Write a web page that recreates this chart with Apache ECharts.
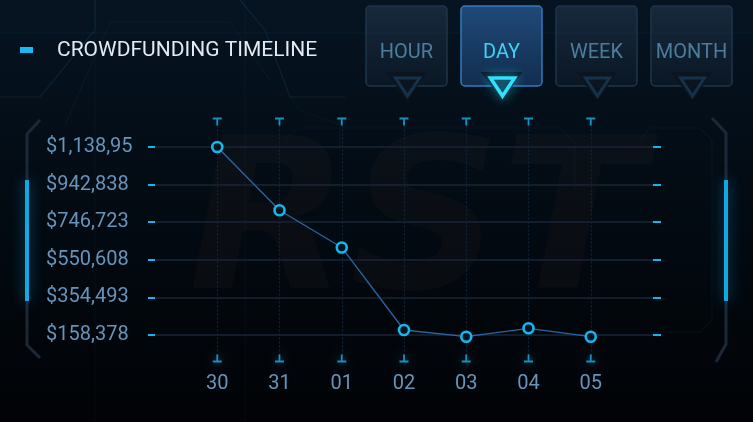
<!DOCTYPE html>
<html>
<head>
<meta charset="utf-8">
<script src="https://cdn.jsdelivr.net/npm/echarts@6/dist/echarts.min.js"></script>
<style>
html,body{margin:0;padding:0;background:#02070c;}
#chart{width:753px;height:422px;}
</style>
</head>
<body>
<div id="chart"></div>
<script>
// ---- data ----
const days = ['30', '31', '01', '02', '03', '04', '05'];
const funds = [1138953, 809300, 615100, 184400, 149500, 193300, 149500];
const yTickValues = [158378, 354493, 550608, 746723, 942838, 1138953];
const periodButtons = ['HOUR', 'DAY', 'WEEK', 'MONTH'];
const activeButton = 'DAY';
const chartTitle = 'CROWDFUNDING TIMELINE';

// padded category list so that the first/last day sit one slot inside the plot
const xCats = [''].concat(days, ['']);
const realCat = (i, v) => v !== '';

const chart = echarts.init(document.getElementById('chart'), null, {renderer: 'canvas'});

const FONT = 'Roboto, "DejaVu Sans", sans-serif';
const labelColor = '#6694bb';
const cyan = '#17b4ea';

// ---- decorative graphics ----
const graphics = [];
const frameStroke = 'rgba(40,85,120,0.26)';
graphics.push(
  {type:'polyline', silent:true, shape:{points:[[0,97],[40,97],[95,30],[95,0]]}, style:{stroke:frameStroke, lineWidth:1.2, fill:null}},
  {type:'polyline', silent:true, shape:{points:[[240,0],[265,30],[290,97],[345,97]]}, style:{stroke:frameStroke, lineWidth:1.2, fill:null}},
  {type:'polyline', silent:true, shape:{points:[[65,125],[110,22],[230,22],[270,80]]}, style:{stroke:'rgba(40,85,120,0.15)', lineWidth:1, fill:null}},
  {type:'polyline', silent:true, shape:{points:[[290,97],[300,110],[340,125],[340,150]]}, style:{stroke:'rgba(40,85,120,0.12)', lineWidth:1, fill:null}},
  {type:'line', silent:true, shape:{x1:0,y1:33,x2:753,y2:33}, style:{stroke:'rgba(40,80,110,0.18)', lineWidth:1}},
  {type:'line', silent:true, shape:{x1:95,y1:0,x2:95,y2:422}, style:{stroke:'rgba(40,80,110,0.10)', lineWidth:1}},
  {type:'line', silent:true, shape:{x1:245,y1:0,x2:245,y2:422}, style:{stroke:'rgba(40,80,110,0.10)', lineWidth:1}},
  {type:'polyline', silent:true, shape:{points:[[640,140],[650,128],[700,128],[712,140],[712,320],[700,332],[650,332]]}, style:{stroke:'rgba(40,85,120,0.14)', lineWidth:1, fill:null}},
  {type:'polyline', silent:true, shape:{points:[[285,140],[298,128],[560,128],[575,142],[575,190]]}, style:{stroke:'rgba(40,85,120,0.12)', lineWidth:1, fill:null}}
);
// big watermark logo
graphics.push({
  type:'text', silent:true, z:-1, left:188, top:128,
  style:{text:'RST', font:'italic 900 210px "DejaVu Sans", sans-serif', fill:'rgba(58,48,42,0.13)'}
});
// side brackets
const bracket = '#1b2838';
graphics.push(
  {type:'polyline', silent:true, shape:{points:[[40,120],[27,134],[27,345],[40,358]]}, style:{stroke:bracket, lineWidth:3, fill:null}},
  {type:'polyline', silent:true, shape:{points:[[712,118],[726,133],[726,344],[716,362]]}, style:{stroke:bracket, lineWidth:3, fill:null}},
  {type:'rect', silent:true, shape:{x:25,y:180,width:4,height:121}, style:{fill:'#12a9e3', shadowBlur:14, shadowColor:'rgba(20,160,230,0.6)'}},
  {type:'rect', silent:true, shape:{x:724,y:180,width:4,height:121}, style:{fill:'#12a9e3', shadowBlur:14, shadowColor:'rgba(20,160,230,0.6)'}}
);
// title
graphics.push(
  {type:'rect', silent:true, shape:{x:20,y:47,width:13,height:6}, style:{fill:'#19b9f1'}},
  {type:'text', silent:true, style:{text:chartTitle, x:57, y:51, verticalAlign:'middle', font:'21px ' + FONT, fill:'#e3eaf1', textShadowColor:'rgba(200,60,60,0.45)', textShadowOffsetX:-0.8, textShadowBlur:0}}
);
// period buttons
periodButtons.forEach((name, i) => {
  const x = 366 + i * 95, w = 81, cx = x + w / 2;
  const active = name === activeButton;
  graphics.push({
    type:'rect', silent:true,
    shape:{x:x, y:6, width:w, height:80, r:4},
    style:{
      fill: active
        ? new echarts.graphic.LinearGradient(0,0,0,1,[{offset:0,color:'#1f4a79'},{offset:1,color:'#112d4e'}])
        : new echarts.graphic.LinearGradient(0,0,0,1,[{offset:0,color:'rgba(36,58,80,0.55)'},{offset:1,color:'rgba(16,32,48,0.5)'}]),
      stroke: active ? '#3379bd' : '#1f3549', lineWidth: 1.5
    }
  });
  graphics.push({
    type:'text', silent:true,
    style:{text:name, x:cx, y:53, align:'center', verticalAlign:'middle', font:'20px ' + FONT, fill: active ? '#40d2f2' : '#4b7d9e'}
  });
  graphics.push({
    type:'polygon', silent:true,
    shape:{points:[[cx-21,72],[cx+21,72],[cx+1,101]]},
    style:{fill: active ? '#0b1a2a' : '#0a1520'}
  });
  graphics.push({
    type:'polygon', silent:true,
    shape:{points:[[cx-11,78],[cx+13,78],[cx+1,96]]},
    style:{fill:null, stroke: active ? '#2fe0ff' : '#15324b', lineWidth: active ? 3.5 : 3,
           shadowBlur: active ? 12 : 0, shadowColor:'rgba(40,220,255,0.8)'}
  });
});

const option = {
  backgroundColor: new echarts.graphic.LinearGradient(0,0,0,1,[
    {offset:0, color:'#061422'}, {offset:0.45, color:'#030b13'}, {offset:1, color:'#010306'}
  ]),
  animation: false,
  graphic: graphics,
  grid: [
    {left:155, right:100, top:147, bottom:87},
    {left:155, right:100, top:121.5, bottom:63.5}
  ],
  xAxis: [
    {type:'category', gridIndex:0, data:xCats, boundaryGap:false, show:false},
    {type:'category', gridIndex:1, data:xCats, boundaryGap:false,
     axisLine:{show:false}, axisTick:{show:false},
     axisLabel:{interval:realCat, color:labelColor, fontFamily:FONT, fontSize:20, margin:15},
     splitLine:{show:true, interval:realCat, lineStyle:{color:'#10253a', type:[2,2], width:1.2}}}
  ],
  yAxis: [
    {type:'value', gridIndex:0, position:'left',
     min:yTickValues[0], max:yTickValues[yTickValues.length-1],
     interval:yTickValues[1]-yTickValues[0],
     axisLine:{show:false},
     axisTick:{show:true, length:7, lineStyle:{color:cyan, width:2}},
     axisLabel:{color:labelColor, fontFamily:FONT, fontSize:20, margin:109, align:'left',
                width:91, overflow:'truncate', ellipsis:'',
                formatter: v => '$' + Math.round(v).toLocaleString('en-US')},
     splitLine:{show:true, lineStyle:{color:'#1a2536', width:1.6}}},
    {type:'value', gridIndex:0, position:'right',
     min:yTickValues[0], max:yTickValues[yTickValues.length-1],
     interval:yTickValues[1]-yTickValues[0],
     axisLine:{show:false}, axisLabel:{show:false}, splitLine:{show:false},
     axisTick:{show:true, length:8, lineStyle:{color:cyan, width:2}}},
    {type:'value', gridIndex:1, min:0, max:1, show:false}
  ],
  series: [
    {
      name:'T-top', type:'scatter', xAxisIndex:1, yAxisIndex:2, silent:true,
      data: days.map(d => [d, 1]),
      symbol:'path://M0,0H10V2H6V8H4V2H0Z', symbolSize:[9,8], symbolKeepAspect:false,
      itemStyle:{color:cyan}
    },
    {
      name:'T-bottom', type:'scatter', xAxisIndex:1, yAxisIndex:2, silent:true,
      data: days.map(d => [d, 0]),
      symbol:'path://M4,0H6V6H10V8H0V6H4Z', symbolSize:[9,8], symbolKeepAspect:false,
      itemStyle:{color:cyan, shadowBlur:8, shadowColor:'rgba(20,160,230,0.5)'}
    },
    {
      name:'Funds', type:'line', xAxisIndex:0, yAxisIndex:0, clip:false,
      data: days.map((d, i) => [d, funds[i]]),
      symbol:'circle', symbolSize:10, showAllSymbol:true,
      lineStyle:{color:'#2a66a3', width:1.3},
      itemStyle:{color:'#041320', borderColor:'#14b6ec', borderWidth:2.6},
      z:5
    }
  ]
};
chart.setOption(option);
</script>
</body>
</html>
